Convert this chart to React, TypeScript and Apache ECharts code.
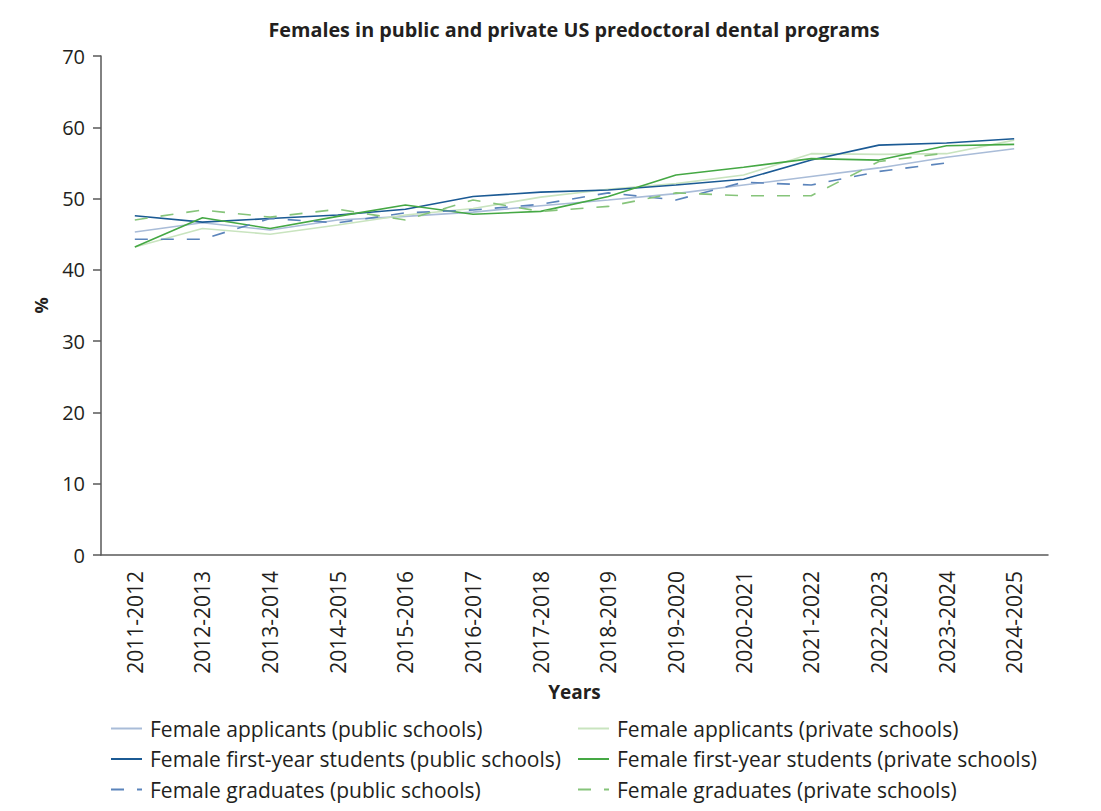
import { useEffect, useRef } from "react";
import * as echarts from "echarts";

const years = [
  "2011-2012", "2012-2013", "2013-2014", "2014-2015", "2015-2016", "2016-2017", "2017-2018",
  "2018-2019", "2019-2020", "2020-2021", "2021-2022", "2022-2023", "2023-2024", "2024-2025",
];

const applicantsPublic = [45.3, 46.6, 45.6, 47.0, 47.5, 48.1, 49.0, 49.8, 50.7, 51.9, 53.1, 54.3, 55.8, 57.0];
const applicantsPrivate = [43.2, 45.8, 45.0, 46.3, 47.7, 48.6, 50.2, 51.3, 52.1, 53.3, 56.3, 56.2, 56.3, 58.2];
const firstYearPublic = [47.6, 46.7, 47.2, 47.7, 48.5, 50.3, 50.9, 51.2, 51.9, 52.7, 55.4, 57.5, 57.8, 58.4];
const firstYearPrivate = [43.2, 47.3, 45.8, 47.5, 49.1, 47.8, 48.2, 50.3, 53.3, 54.4, 55.6, 55.4, 57.4, 57.6];
const graduatesPublic = [44.3, 44.3, 47.2, 46.6, 48.0, 48.4, 49.2, 50.8, 49.8, 52.3, 51.9, 53.8, 55.0, null];
const graduatesPrivate = [47.0, 48.4, 47.4, 48.5, 47.0, 49.8, 48.2, 48.9, 50.8, 50.4, 50.4, 55.2, 56.4, null];

const FONT = "'Open Sans', 'Noto Sans', sans-serif";
const TEXT = "#231f20";
const AXIS = "#595959";

const publicNames = [
  "Female applicants (public schools)",
  "Female first-year students (public schools)",
  "Female graduates (public schools)",
];
const privateNames = [
  "Female applicants (private schools)",
  "Female first-year students (private schools)",
  "Female graduates (private schools)",
];

const legendBase = {
  orient: "vertical" as const,
  top: 718,
  height: 93,
  padding: 0,
  itemWidth: 31,
  itemHeight: 10,
  itemGap: 9.5,
  itemStyle: { opacity: 0 },
  textStyle: { fontFamily: FONT, fontSize: 21, lineHeight: 21, color: TEXT, padding: [0, 0, 0, 3] },
};

const line = (name: string, data: (number | null)[], color: string, dashed = false) => ({
  name,
  type: "line",
  data,
  symbol: "none",
  lineStyle: { color, width: 1.6, type: dashed ? [13, 13] : "solid" },
  itemStyle: { color },
});

export default function App() {
  const ref = useRef<HTMLDivElement>(null);

  useEffect(() => {
    document.body.style.margin = "0";
    if (!ref.current) return;
    const chart = echarts.init(ref.current, null, { renderer: "svg" });
    chart.setOption({
      animation: false,
      backgroundColor: "#ffffff",
      graphic: [
        {
          type: "text",
          x: 574,
          y: 29,
          style: {
            text: "Females in public and private US predoctoral dental programs",
            fontFamily: FONT,
            fontSize: 19.8,
            fontWeight: "bold",
            fill: TEXT,
            textAlign: "center",
            textVerticalAlign: "middle",
          },
        },
      ],
      legend: [
        { ...legendBase, left: 110, data: publicNames },
        { ...legendBase, left: 577, data: privateNames },
      ],
      grid: { left: 101, right: 53, top: 56, bottom: 256, containLabel: false },
      xAxis: {
        type: "category",
        data: years,
        boundaryGap: true,
        name: "Years",
        nameLocation: "middle",
        nameGap: 127,
        nameTextStyle: { fontFamily: FONT, fontSize: 19, fontWeight: "bold", color: TEXT },
        axisLine: { lineStyle: { color: AXIS, width: 1.5 } },
        axisTick: { alignWithLabel: true, length: 7, lineStyle: { color: AXIS, width: 1.5 } },
        axisLabel: { rotate: 90, margin: 16, fontFamily: FONT, fontSize: 21, color: TEXT, interval: 0 },
      },
      yAxis: {
        type: "value",
        min: 0,
        max: 70,
        interval: 10,
        name: "%",
        nameLocation: "middle",
        nameRotate: 90,
        nameGap: 51,
        nameTextStyle: { fontFamily: FONT, fontSize: 18, fontWeight: "bold", color: TEXT },
        axisLine: { show: true, lineStyle: { color: AXIS, width: 1.5 } },
        axisTick: { show: true, length: 8, lineStyle: { color: AXIS, width: 1.5 } },
        axisLabel: { margin: 16, fontFamily: FONT, fontSize: 20, color: TEXT },
        splitLine: { show: false },
      },
      series: [
        line(publicNames[0], applicantsPublic, "#a9bcd8"),
        line(privateNames[0], applicantsPrivate, "#c9e4bf"),
        line(publicNames[1], firstYearPublic, "#1b5a94"),
        line(privateNames[1], firstYearPrivate, "#45a844"),
        line(publicNames[2], graduatesPublic, "#5b84bb", true),
        line(privateNames[2], graduatesPrivate, "#86c47a", true),
      ],
    });
    return () => chart.dispose();
  }, []);

  return <div ref={ref} style={{ width: 1101, height: 811 }} />;
}
